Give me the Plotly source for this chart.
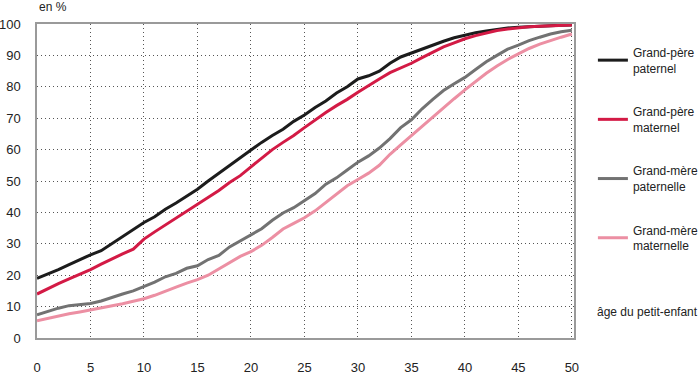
import plotly.graph_objects as go

ages = list(range(0, 51))

grand_pere_paternel = [19, 20.3, 21.8, 23.4, 25, 26.5, 27.8, 30, 32.4, 34.6,
                       36.8, 38.6, 41, 43, 45.3, 47.4, 50, 52.5, 55, 57.5,
                       60, 62.3, 64.5, 66.5, 69, 71, 73.4, 75.5, 78, 80,
                       82.5, 83.5, 85, 87.5, 89.5, 90.8, 92, 93.2, 94.5, 95.6,
                       96.5, 97.2, 97.8, 98.3, 98.7, 99, 99.2, 99.4, 99.5, 99.6, 99.7]
grand_pere_maternel = [14, 15.7, 17.3, 18.8, 20.2, 21.8, 23.5, 25.2, 26.8, 28.3,
                       31.5, 33.8, 36, 38.2, 40.3, 42.5, 44.7, 47, 49.5, 51.7,
                       54.5, 57.3, 60, 62.3, 64.5, 67, 69.5, 71.8, 74, 76,
                       78.3, 80.5, 82.5, 84.5, 86, 87.5, 89.3, 91, 92.7, 94,
                       95.3, 96.3, 97.2, 97.9, 98.4, 98.8, 99.1, 99.3, 99.5, 99.6, 99.7]
grand_mere_paternelle = [7.4, 8.5, 9.5, 10.3, 10.6, 11, 11.8, 13, 14, 15,
                         16.3, 17.8, 19.5, 20.6, 22.2, 23, 25, 26.3, 29, 31,
                         32.8, 34.8, 37.5, 39.8, 41.5, 43.7, 46, 49, 51, 53.5,
                         56, 58, 60.5, 63.5, 67, 69.5, 73, 76, 78.8, 81,
                         83, 85.5, 88, 90, 92, 93.3, 94.7, 95.8, 96.8, 97.5, 98]
grand_mere_maternelle = [5.5, 6.3, 7, 7.7, 8.3, 8.9, 9.5, 10.2, 10.9, 11.7,
                         12.5, 13.6, 15, 16.2, 17.5, 18.6, 20, 22, 24, 26,
                         27.5, 29.5, 32, 34.7, 36.5, 38.3, 40.5, 43.2, 46, 48.5,
                         50.5, 52.5, 55, 58.5, 61.5, 64.5, 67.5, 70.3, 73.2, 76.2,
                         79, 81.8, 84.3, 86.6, 88.7, 90.5, 92.2, 93.6, 94.8, 95.8, 96.8]

series_names = ["Grand-père<br>paternel", "Grand-père<br>maternel",
                "Grand-mère<br>paternelle", "Grand-mère<br>maternelle"]
series_values = [grand_pere_paternel, grand_pere_maternel,
                 grand_mere_paternelle, grand_mere_maternelle]
colors = ["#1c1c1c", "#d31a45", "#727272", "#ec8fa3"]

x_ticks = [0, 5, 10, 15, 20, 25, 30, 35, 40, 45, 50]
y_ticks = [0, 10, 20, 30, 40, 50, 60, 70, 80, 90, 100]

FONT = "Liberation Sans, Arial, sans-serif"

fig = go.Figure()
for i, (name, vals, col) in enumerate(zip(series_names, series_values, colors)):
    fig.add_trace(go.Scatter(x=ages, y=vals, mode="lines", name=name,
                             legendgroup=str(i),
                             line=dict(color=col, width=3)))

fig.update_layout(
    width=700, height=373,
    margin=dict(l=37, r=126, t=24, b=35, autoexpand=False),
    paper_bgcolor="white", plot_bgcolor="white",
    font=dict(family=FONT, size=13, color="#222"),
    showlegend=True,
    legend=dict(xref="container", yref="container",
                x=0.847, y=0.898, xanchor="left", yanchor="top",
                maxheight=400,
                tracegroupgap=25, font=dict(size=12, color="#222"),
                itemwidth=30, bgcolor="rgba(0,0,0,0)"),
    xaxis=dict(range=[0, 50.2], tickvals=x_ticks, ticks="",
               showgrid=True, gridcolor="#555", griddash="1px,3px", gridwidth=1,
               showline=True, linecolor="#9a9a9a", linewidth=1.5, mirror=True,
               zeroline=False, ticklabelstandoff=17, tickfont=dict(size=13),
               automargin=False),
    yaxis=dict(range=[0, 100], tickvals=y_ticks, ticks="",
               showgrid=True, gridcolor="#555", griddash="1px,3px", gridwidth=1,
               showline=True, linecolor="#9a9a9a", linewidth=1.5, mirror=True,
               zeroline=False, ticklabelstandoff=12, tickfont=dict(size=13),
               automargin=False),
    annotations=[
        dict(text="en %", xref="paper", yref="paper", x=0, y=1.0,
             xanchor="left", yanchor="bottom", yshift=8, showarrow=False,
             font=dict(size=12, color="#222")),
        dict(text="âge du petit-enfant", xref="paper", yref="paper",
             x=1.039, y=0.083, xanchor="left", yanchor="middle",
             showarrow=False, font=dict(size=12, color="#222")),
    ],
)

fig.write_html("out.html",
               config={"displayModeBar": False},
               post_script="document.body.style.margin='0';document.body.style.overflow='hidden';")
